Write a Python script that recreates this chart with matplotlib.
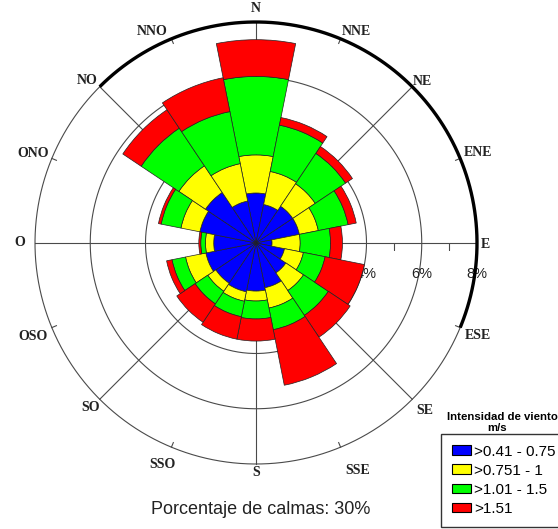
import numpy as np
import matplotlib
matplotlib.use("Agg")
import matplotlib.pyplot as plt
from matplotlib.patches import Patch

# Wind directions (Spanish compass notation), clockwise from north
directions = ["N", "NNE", "NE", "ENE", "E", "ESE", "SE", "SSE",
              "S", "SSO", "SO", "OSO", "O", "ONO", "NO", "NNO"]

# Speed classes (m/s) and their colours
speed_classes = [">0.41 - 0.75", ">0.751 - 1", ">1.01 - 1.5", ">1.51"]
class_colors = ["#0000ff", "#ffff00", "#00ff00", "#ff0000"]

# Frequency (%) of each speed class per direction
freq_041_075 = [1.81, 1.42, 1.60, 1.60, 0.58, 1.05, 1.30, 1.65,
                1.74, 1.80, 1.75, 1.85, 1.53, 2.07, 2.20, 1.55]
freq_0751_1 = [1.38, 1.22, 0.98, 0.70, 1.02, 0.70, 0.77, 0.75,
               0.36, 0.35, 0.35, 0.75, 0.30, 0.70, 1.16, 1.38]
freq_101_15 = [2.84, 1.71, 1.32, 1.10, 1.10, 0.80, 1.08, 0.80,
               0.65, 0.57, 0.55, 0.50, 0.17, 0.73, 1.64, 1.92]
freq_151 = [1.33, 0.28, 0.30, 0.30, 0.43, 1.45, 0.95, 2.05,
            0.80, 0.83, 0.80, 0.20, 0.07, 0.10, 0.80, 1.25]

ring_values = [2, 4, 6, 8]
minor_ring_ticks = [1, 3, 5, 7]
calm_pct = 30

# Label offsets (pixels) from the outer ring for each direction name
label_offsets_px = [(0, 14), (16, 7), (10, 5), (18, 6), (8, -1), (18, -8),
                    (13, -11), (17, -23), (0, -9), (-9, -17), (-9, -8),
                    (-19, -9), (-15, 0), (-19, 5), (-13, 6), (-19, 7)]

W, H, DPI = 558, 529, 100
fig = plt.figure(figsize=(W / DPI, H / DPI), dpi=DPI)
fig.patch.set_facecolor("white")

cx, cy, rad = 256, 243, 221
ax = fig.add_axes([(cx - rad) / W, (H - cy - rad) / H, 2 * rad / W, 2 * rad / H],
                  projection="polar")
ax.set_theta_zero_location("N")
ax.set_theta_direction(-1)
rmax = ring_values[-1]
ax.set_ylim(0, rmax)
ax.grid(False)
ax.set_xticks([])
ax.set_yticks([])
ax.spines["polar"].set_visible(False)
ax.patch.set_alpha(0)

n = len(directions)
theta = np.arange(n) * 2 * np.pi / n
width = 2 * np.pi / n
full = np.linspace(0, 2 * np.pi, 400)
grid_col = "#4a4a4a"

# Rings and radial lines behind the bars
for r in ring_values[:-1]:
    ax.plot(full, np.full_like(full, r), color=grid_col, lw=0.8, zorder=1)
ax.plot(full, np.full_like(full, rmax), color=grid_col, lw=0.8, zorder=1,
        clip_on=False)
for t in theta[::2]:
    ax.plot([t, t], [0, rmax], color=grid_col, lw=0.8, zorder=1, clip_on=False)
for t in theta[1::2]:
    ax.plot([t, t], [rmax - 0.18, rmax], color=grid_col, lw=0.8, zorder=1,
            clip_on=False)

# Heavy arc along the upper-right part of the outer ring
arc = np.linspace(np.radians(-45), np.radians(112.5), 200)
ax.plot(arc, np.full_like(arc, rmax), color="black", lw=2.4, zorder=4,
        clip_on=False, solid_capstyle="butt")

# Minor ticks along the east axis
ax.plot(np.full(len(minor_ring_ticks), np.pi / 2), minor_ring_ticks,
        linestyle="none", marker=3, markersize=5, mew=0.8, color=grid_col,
        zorder=1)

# Ring value labels (drawn beneath the bars)
for r in ring_values:
    ax.annotate(f"{r}%", xy=(np.pi / 2, r), xytext=(0, -31),
                textcoords="offset pixels", ha="center", va="center",
                fontsize=10.5, family="Liberation Sans", color="#222222",
                zorder=2, annotation_clip=False)

# Stacked wind-rose bars
bottom = np.zeros(n)
for vals, col in zip([freq_041_075, freq_0751_1, freq_101_15, freq_151],
                     class_colors):
    vals = np.asarray(vals)
    ax.bar(theta, vals, width=width, bottom=bottom, color=col,
           edgecolor="#222222", linewidth=0.5, zorder=3, align="center")
    bottom = bottom + vals

# Direction names
for t, name, (dx, dy) in zip(theta, directions, label_offsets_px):
    ax.annotate(name, xy=(t, rmax), xytext=(dx, dy),
                textcoords="offset pixels", ha="center", va="center",
                fontsize=10, fontweight="bold", family="Liberation Serif",
                color="#222222", annotation_clip=False, zorder=5)

# Legend
handles = [Patch(facecolor=c, edgecolor="black", linewidth=0.8)
           for c in class_colors]
leg = fig.legend(handles, speed_classes, loc="upper right",
                 bbox_to_anchor=(566 / W, 1 - 434 / H), borderaxespad=0,
                 prop={"family": "Liberation Sans", "size": 11},
                 frameon=True, fancybox=False, edgecolor="black",
                 handlelength=1.25, handleheight=0.6, handletextpad=0.2,
                 labelspacing=0.33, borderpad=0.7)
leg.get_frame().set_linewidth(1.0)
fig.text(502 / W, 1 - 417 / H, "Intensidad de viento", ha="center",
         va="center", fontsize=8.2, fontweight="bold",
         family="Liberation Sans")
fig.text(497 / W, 1 - 428 / H, "m/s", ha="center",
         va="center", fontsize=8.2, fontweight="bold",
         family="Liberation Sans")

fig.text(261 / W, 1 - 509 / H, f"Porcentaje de calmas: {calm_pct}%",
         ha="center", va="center", fontsize=13, family="Liberation Sans",
         color="#222222")

fig.savefig("out.png", dpi=DPI)
